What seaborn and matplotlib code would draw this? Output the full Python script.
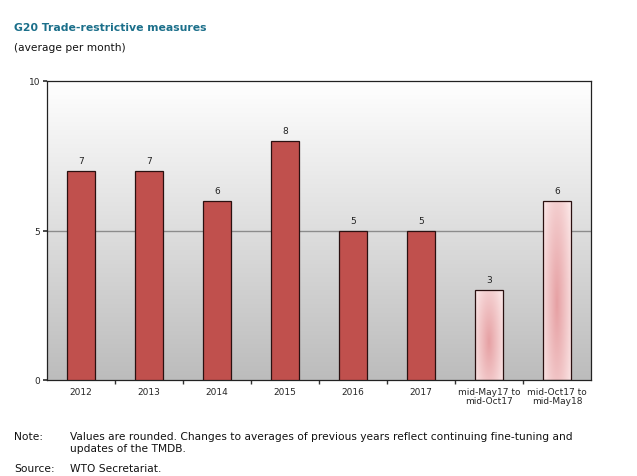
import numpy as np
import pandas as pd
import matplotlib
matplotlib.use("Agg")
import matplotlib.pyplot as plt
import seaborn as sns
from matplotlib.colors import LinearSegmentedColormap

categories = ["2012", "2013", "2014", "2015", "2016", "2017",
              "mid-May17 to\nmid-Oct17", "mid-Oct17 to\nmid-May18"]
values = [7, 7, 6, 8, 5, 5, 3, 6]
value_labels = ["7", "7", "6", "8", "5", "5", "3", "6"]
y_ticks = [0, 5, 10]

sns.set_theme(style="white")
plt.rcParams['font.family'] = ['DejaVu Sans']

fig = plt.figure(figsize=(6.37, 4.77), dpi=100)
ax = fig.add_axes([47/637, 1-381/477, (591-47)/637, (381-82)/477])

df = pd.DataFrame({"cat": categories, "val": values})
sns.barplot(data=df, x="cat", y="val", ax=ax, color="#c0504d", width=0.41,
            edgecolor="#2a1010", linewidth=0.9, saturation=1, zorder=3)

ax.set_ylim(0, 10)
ax.set_xlim(-0.5, len(categories) - 0.5)

# background gradient: grey at bottom, white at top
grad = np.linspace(0, 1, 256).reshape(-1, 1)
bg_cmap = LinearSegmentedColormap.from_list("bg", ["#bcbcbc", "#ffffff"])
ax.imshow(grad, extent=[-0.5, len(categories) - 0.5, 0, 10], aspect="auto",
          cmap=bg_cmap, origin="lower", zorder=0, vmin=0, vmax=1)
ax.axhline(5, color="#8c8c8c", lw=1.0, zorder=1)

# pink radial gradient for the last two bars
pink_cmap = LinearSegmentedColormap.from_list("pink", ["#fbe6e6", "#e6a0a3"])
patches = ax.patches
for i in [6, 7]:
    p = patches[i]
    p.set_facecolor("none")
    x0, y0 = p.get_x(), p.get_y()
    w, h = p.get_width(), p.get_height()
    xx, yy = np.meshgrid(np.linspace(-1, 1, 60), np.linspace(-1, 1, 120))
    r = np.sqrt(xx**2 + ((yy + 0.15) * 0.7) ** 2)
    z = np.clip(1 - r / 1.2, 0, 1)
    im = ax.imshow(z, extent=[x0, x0 + w, y0, y0 + h], aspect="auto",
                   cmap=pink_cmap, origin="lower", zorder=2.5, vmin=0, vmax=1)
    im.set_clip_path(p)

for i, (v, lab) in enumerate(zip(values, value_labels)):
    ax.text(i, v + 0.2, lab, ha="center", va="bottom", fontsize=6.5, color="#222222", zorder=5)

ax.set_yticks(y_ticks)
ax.set_yticklabels([str(t) for t in y_ticks], fontsize=6.5)
ax.set_xticks(range(len(categories)))
ax.set_xticklabels(categories, fontsize=6.5, linespacing=1.0)
ax.set_xticks(np.arange(0.5, len(categories) - 0.5, 1), minor=True)
ax.tick_params(axis="x", which="major", length=0, pad=5)
ax.tick_params(axis="x", which="minor", length=3, direction="out", color="#333333", bottom=True)
ax.tick_params(axis="y", length=3, direction="out", color="#333333", left=True, pad=2)
ax.set_xlabel("")
ax.set_ylabel("")
for s in ax.spines.values():
    s.set_visible(True)
    s.set_color("#222222")
    s.set_linewidth(0.9)

fig.text(14/637, 1-28/477, "G20 Trade-restrictive measures", fontsize=7.8, fontweight="bold",
         color="#1b6f8a", va="center")
fig.text(14/637, 1-48/477, "(average per month)", fontsize=7.7, color="#111111", va="center")

fs = 7.7
fig.text(14/637, 1-437/477, "Note:", fontsize=fs, color="#111111", va="center")
fig.text(70/637, 1-437/477, "Values are rounded. Changes to averages of previous years reflect continuing fine-tuning and",
         fontsize=fs, color="#111111", va="center")
fig.text(70/637, 1-449/477, "updates of the TMDB.", fontsize=fs, color="#111111", va="center")
fig.text(14/637, 1-469/477, "Source:", fontsize=fs, color="#111111", va="center")
fig.text(70/637, 1-469/477, "WTO Secretariat.", fontsize=fs, color="#111111", va="center")

fig.savefig("out.png", dpi=100)
